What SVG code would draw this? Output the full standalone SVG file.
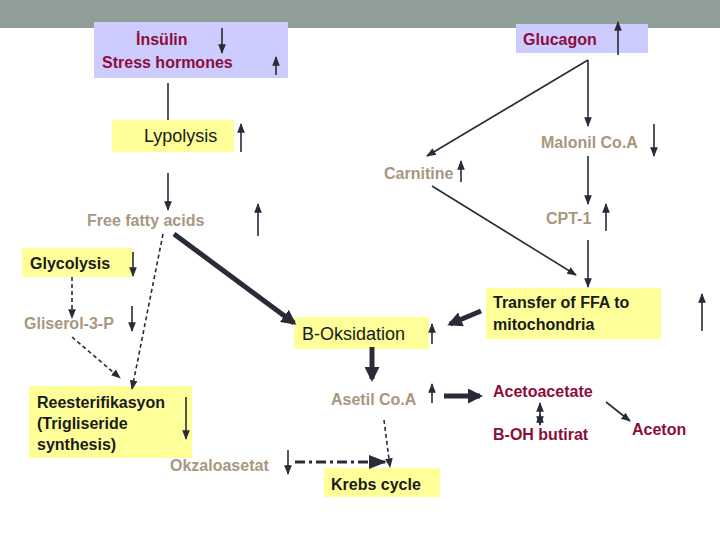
<svg xmlns="http://www.w3.org/2000/svg" width="720" height="540" viewBox="0 0 720 540">
<defs>
<marker id="a" viewBox="0 0 10 10" refX="9" refY="5" markerWidth="6" markerHeight="6" orient="auto-start-reverse"><path d="M0,1 L10,5 L0,9 z" fill="#2a2a38"/></marker>
<marker id="t" viewBox="0 0 10 10" refX="8" refY="5" markerWidth="3" markerHeight="3" orient="auto"><path d="M0,0 L10,5 L0,10 z" fill="#2a2a38"/></marker>
</defs>
<style>
text{font-family:"Liberation Sans",Arial,sans-serif;font-weight:bold;font-size:16px}
.m{fill:#8c0d3c}.tan{fill:#a8977f}.k{fill:#1a1a1a}.n{font-weight:normal;font-size:18px}
.y{fill:#ffff99}.p{fill:#ccccff}
line{stroke:#2a2a38;stroke-width:1.6;fill:none}
.ar{marker-end:url(#a)}
.d{stroke-dasharray:4 3}
.th{stroke-width:5;marker-end:url(#t)}
</style>
<rect x="0" y="0" width="720" height="28" fill="#8f9e96"/>
<g id="insulin"><rect class="p" x="94" y="22" width="194" height="56"/><text class="m" x="136" y="45">İnsülin</text><text class="m" x="102" y="68">Stress hormones</text><line class="ar" x1="222" y1="28" x2="222" y2="53"/><line class="ar" x1="276" y1="75" x2="276" y2="57"/></g>
<g id="glucagon"><rect class="p" x="516" y="24" width="132" height="29"/><text class="m" x="523" y="45">Glucagon</text><line class="ar" x1="618" y1="55" x2="618" y2="22"/></g>
<g id="lypolysis"><rect class="y" x="112" y="120" width="122" height="32"/><text class="k n" x="144" y="142">Lypolysis</text><line class="ar" x1="241" y1="152" x2="241" y2="124"/></g>
<g id="ffa"><text class="tan" x="87" y="226">Free fatty acids</text><line class="ar" x1="258" y1="236" x2="258" y2="204"/></g>
<g id="malonil"><text class="tan" x="541" y="148">Malonil Co.A</text><line class="ar" x1="654" y1="124" x2="654" y2="156"/></g>
<g id="carnitine"><text class="tan" x="384" y="179">Carnitine</text><line class="ar" x1="461" y1="182" x2="461" y2="161"/></g>
<g id="cpt1"><text class="tan" x="546" y="224">CPT-1</text><line class="ar" x1="606" y1="231" x2="606" y2="204"/></g>
<g id="glycolysis"><rect class="y" x="22" y="248" width="111" height="29"/><text class="k" x="30" y="269">Glycolysis</text><line class="ar" x1="133" y1="252" x2="133" y2="276"/></g>
<g id="gliserol"><text class="tan" x="24" y="329">Gliserol-3-P</text><line class="ar" x1="132" y1="306" x2="132" y2="331"/></g>
<g id="transfer"><rect class="y" x="486" y="288" width="175" height="51"/><text class="k" x="493" y="308">Transfer of FFA to</text><text class="k" x="493" y="330">mitochondria</text><line class="ar" x1="702" y1="331" x2="702" y2="294"/></g>
<g id="boks"><rect class="y" x="294" y="317" width="135" height="32"/><text class="k n" x="302" y="340">B-Oksidation</text><line class="ar" x1="432" y1="344" x2="432" y2="324"/></g>
<g id="asetil"><text class="tan" x="331" y="405">Asetil Co.A</text><line class="ar" x1="432" y1="403" x2="432" y2="384"/></g>
<g id="acetoacetate"><text class="m" x="493" y="397">Acetoacetate</text></g>
<g id="bohb"><text class="m" x="493" y="440">B-OH butirat</text></g>
<g id="aceton"><text class="m" x="632" y="435">Aceton</text></g>
<g id="rees"><rect class="y" x="29" y="386" width="163" height="72"/><text class="k" x="37" y="408">Reesterifikasyon</text><text class="k" x="37" y="429">(Trigliseride</text><text class="k" x="37" y="450">synthesis)</text><line class="ar" x1="186" y1="397" x2="186" y2="439"/></g>
<g id="okz"><text class="tan" x="170" y="471">Okzaloasetat</text><line class="ar" x1="288" y1="450" x2="288" y2="474"/></g>
<g id="krebs"><rect class="y" x="324" y="468" width="116" height="29"/><text class="k" x="331" y="490">Krebs cycle</text></g>
<g id="connectors">
<line x1="168" y1="83" x2="168" y2="120"/>
<line class="ar" x1="168" y1="173" x2="168" y2="210"/>
<line class="ar" x1="588" y1="60" x2="588" y2="126"/>
<line class="ar" x1="588" y1="60" x2="427" y2="156"/>
<line class="ar" x1="588" y1="156" x2="588" y2="204"/>
<line class="ar" x1="432" y1="186" x2="576" y2="275"/>
<line class="ar" x1="588" y1="240" x2="588" y2="287"/>
<line class="th" x1="174" y1="234" x2="294" y2="323"/>
<line class="ar d" x1="163" y1="234" x2="132" y2="389"/>
<line class="ar d" x1="72" y1="277" x2="72" y2="318"/>
<line class="ar d" x1="72" y1="337" x2="120" y2="378"/>
<line class="ar" x1="295" y1="462" x2="385" y2="462" style="stroke-width:3;stroke-dasharray:10 4 3 4"/>
<line class="ar d" x1="384" y1="420" x2="390" y2="467"/>
<line class="th" x1="372" y1="347" x2="372" y2="379"/>
<line class="th" x1="444" y1="396" x2="480" y2="396"/>
<line class="th" x1="481" y1="311" x2="450" y2="324"/>
<line class="ar" x1="540" y1="414" x2="540" y2="425" style="marker-start:url(#a)"/>
<line class="ar" x1="540" y1="414" x2="540" y2="403"/>
<line class="ar" x1="606" y1="402" x2="630" y2="421"/>
</g>
</svg>
